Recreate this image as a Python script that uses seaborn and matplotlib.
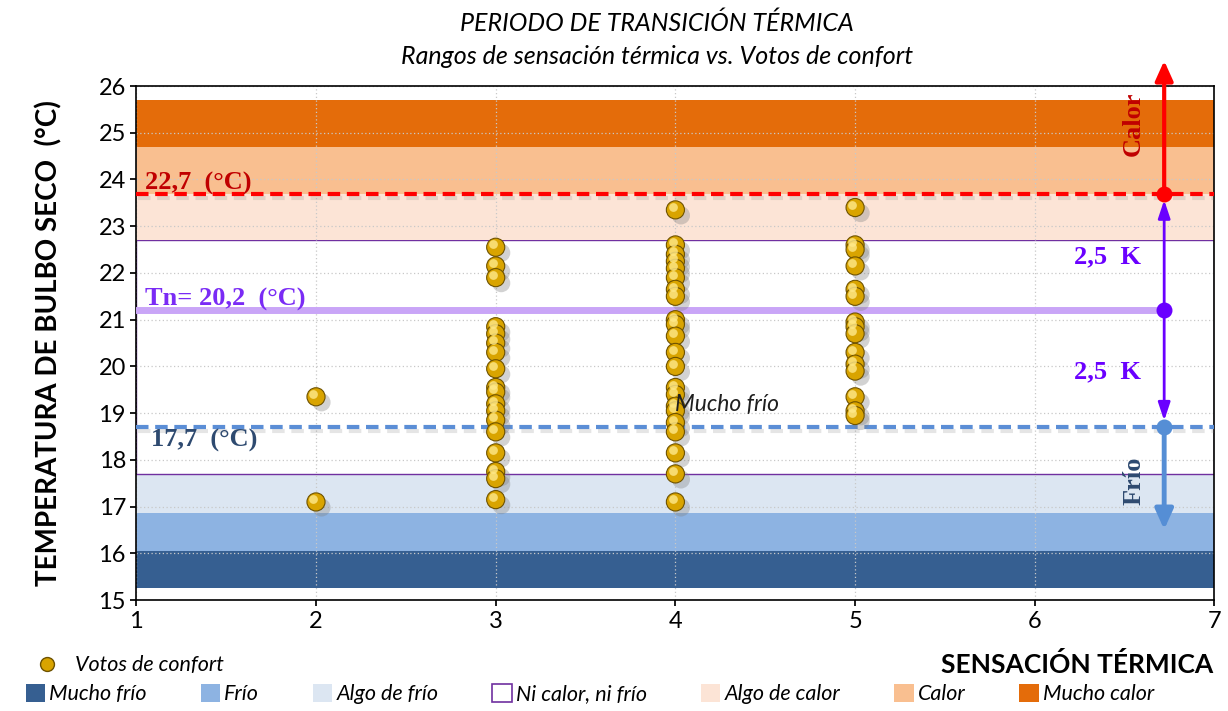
import numpy as np
import pandas as pd
import matplotlib
matplotlib.use("Agg")
import matplotlib.pyplot as plt
import matplotlib.patheffects as pe
from matplotlib.patches import Patch, Rectangle
from matplotlib.lines import Line2D
from matplotlib.transforms import offset_copy
import seaborn as sns

# Votos de confort (sensación térmica vs temperatura de bulbo seco)
votos_2 = [19.35, 17.1]
votos_3 = [22.55, 22.15, 21.9, 20.85, 20.7, 20.5, 20.3, 19.95, 19.55, 19.45,
           19.2, 19.05, 18.85, 18.6, 18.15, 17.75, 17.6, 17.15]
votos_4 = [23.35, 22.6, 22.4, 22.25, 22.1, 21.9, 21.65, 21.5, 21.0, 20.9, 20.65,
           20.3, 20.0, 19.55, 19.4, 19.15, 19.05, 18.8, 18.6, 18.15, 17.7, 17.1]
votos_5 = [23.4, 22.6, 22.5, 22.15, 21.65, 21.5, 20.95, 20.85, 20.7, 20.3,
           20.05, 19.9, 19.35, 19.05, 18.95]

# Rangos de sensación térmica (límites en °C)
rangos = ["Mucho frío", "Frío", "Algo de frío", "Ni calor, ni frío",
          "Algo de calor", "Calor", "Mucho calor"]
limites = [15.25, 16.05, 16.87, 17.7, 22.7, 23.7, 24.7, 25.7]
colores = ["#365F91", "#8DB3E2", "#DCE6F2", "#FFFFFF", "#FCE4D6", "#F9BF90", "#E46C0A"]

# Líneas de referencia (posición dibujada y etiqueta)
y_calor, lab_calor = 23.7, "22,7  (°C)"
y_tn, lab_tn = 21.2, "Tn= 20,2  (°C)"
y_frio, lab_frio = 18.7, "17,7  (°C)"
x_flechas = 6.72

df = pd.DataFrame({
    "sensacion": [2] * len(votos_2) + [3] * len(votos_3) + [4] * len(votos_4) + [5] * len(votos_5),
    "temp": votos_2 + votos_3 + votos_4 + votos_5,
})

sns.set_theme(style="white")
plt.rcParams["font.family"] = ["Lato", "DejaVu Sans"]
plt.rcParams["text.color"] = "black"
plt.rcParams["axes.labelcolor"] = "black"

fig = plt.figure(figsize=(12.28, 7.11), dpi=100)
ax = fig.add_axes([0.111, 0.156, 0.878, 0.723])

# bandas
for i, nombre in enumerate(rangos):
    if nombre == "Ni calor, ni frío":
        ax.add_patch(Rectangle((1, limites[i]), 6, limites[i + 1] - limites[i],
                               facecolor="white", edgecolor="#7030A0", lw=1, zorder=1))
    else:
        ax.add_patch(Rectangle((1, limites[i]), 6, limites[i + 1] - limites[i],
                               facecolor=colores[i], edgecolor="none", zorder=1))

# rejilla punteada
for yy in range(15, 27):
    ax.axhline(yy, color="#C8C8C8", lw=0.9, ls=(0, (1, 2)), zorder=1.5)
for xx in range(1, 8):
    ax.axvline(xx, color="#C8C8C8", lw=0.9, ls=(0, (1, 2)), zorder=1.5)

sombra = [pe.SimpleLineShadow(offset=(1.5, -3), shadow_color="gray", alpha=0.2), pe.Normal()]

# líneas de referencia
ax.plot([1, 7], [y_calor, y_calor], color="#FF0000", lw=3, ls=(0, (3, 1.6)), zorder=3, path_effects=sombra)
ax.plot([1, x_flechas], [y_tn, y_tn], color="#C9A5F7", lw=5, zorder=3)
ax.plot([1, 7], [y_frio, y_frio], color="#5B8ED6", lw=3, ls=(0, (3, 1.6)), zorder=3, path_effects=sombra)

# votos
sns.scatterplot(data=df, x="sensacion", y="temp", ax=ax, s=170, color="#D9A400",
                edgecolor="#6E5200", linewidth=0.8, zorder=5, legend=False)
ax.collections[-1].set_path_effects([pe.SimplePatchShadow(offset=(4, -4), shadow_rgbFace="gray", alpha=0.35), pe.Normal()])
ax.scatter(df["sensacion"], df["temp"], s=40, color="#FFE98A", alpha=0.8, linewidths=0, zorder=6,
           transform=offset_copy(ax.transData, fig, x=-2, y=2, units="points"))

# flechas
ax.annotate("", xy=(x_flechas, 26.6), xytext=(x_flechas, y_calor), annotation_clip=False,
            arrowprops=dict(arrowstyle="-|>,head_length=1.0,head_width=0.45", color="#FF0000", lw=3), zorder=7)
ax.annotate("", xy=(x_flechas, y_calor - 0.08), xytext=(x_flechas, y_tn),
            arrowprops=dict(arrowstyle="-|>,head_length=0.9,head_width=0.3", color="#6A00FF", lw=2), zorder=7)
ax.annotate("", xy=(x_flechas, y_frio + 0.08), xytext=(x_flechas, y_tn),
            arrowprops=dict(arrowstyle="-|>,head_length=0.9,head_width=0.3", color="#6A00FF", lw=2), zorder=7)
ax.annotate("", xy=(x_flechas, 16.45), xytext=(x_flechas, y_frio),
            arrowprops=dict(arrowstyle="-|>,head_length=1.0,head_width=0.45", color="#558ED5", lw=3.5), zorder=7)
ax.scatter([x_flechas], [y_calor], s=110, color="#FF0000", zorder=8)
ax.scatter([x_flechas], [y_tn], s=110, color="#6A00FF", zorder=8)
ax.scatter([x_flechas], [y_frio], s=110, color="#558ED5", zorder=8)

serif = ["Liberation Serif", "DejaVu Serif"]
ax.text(1.05, y_calor + 0.08, lab_calor, color="#C00000", fontsize=19, fontweight="bold", family=serif, zorder=9)
ax.text(1.05, y_tn + 0.1, lab_tn, color="#7A2BF5", fontsize=19, fontweight="bold", family=serif, zorder=9)
ax.text(1.08, y_frio - 0.42, lab_frio, color="#2E4A70", fontsize=19, fontweight="bold", family=serif, zorder=9)
ax.text(6.22, 22.2, "2,5  K", color="#6A00FF", fontsize=19, fontweight="bold", family=serif, zorder=9)
ax.text(6.22, 19.75, "2,5  K", color="#6A00FF", fontsize=19, fontweight="bold", family=serif, zorder=9)
ax.text(6.55, 25.2, "Calor", color="#C00000", fontsize=19, fontweight="bold", family=serif,
        rotation=90, ha="center", va="center", zorder=9)
ax.text(6.55, 17.55, "Frío", color="#2E4A70", fontsize=19, fontweight="bold", family=serif,
        rotation=90, ha="center", va="center", zorder=9)
ax.text(4.0, 19.05, "Mucho frío", fontsize=16.5, style="italic", color="#202020", zorder=9)

ax.set_xlim(1, 7)
ax.set_ylim(15, 26)
ax.set_xticks(range(1, 8))
ax.set_yticks(range(15, 27))
ax.tick_params(axis="both", labelsize=17, length=4, direction="out", bottom=True, left=True, colors="black")
ax.set_xlabel("")
ax.set_ylabel("TEMPERATURA DE BULBO SECO  (°C)", fontsize=20, fontweight="bold", labelpad=26)
for s in ax.spines.values():
    s.set_color("black")
    s.set_linewidth(1.2)

fig.text(0.535, 0.968, "PERIODO DE TRANSICIÓN TÉRMICA", ha="center", va="center", fontsize=18, style="italic")
fig.text(0.535, 0.921, "Rangos de sensación térmica vs. Votos de confort", ha="center", va="center",
         fontsize=18, style="italic")
fig.text(0.988, 0.065, "SENSACIÓN TÉRMICA", ha="right", va="center", fontsize=19, fontweight="bold")

# leyendas
h_votos = [Line2D([0], [0], marker="o", ls="none", markersize=10, markerfacecolor="#D9A400",
                  markeredgecolor="#6E5200")]
fig.legend(h_votos, ["Votos de confort"], loc="center left", bbox_to_anchor=(0.005, 0.064),
           frameon=False, handletextpad=0.3, prop={"size": 15.5, "style": "italic"})
h_rangos = []
for i, nombre in enumerate(rangos):
    if nombre == "Ni calor, ni frío":
        h_rangos.append(Patch(facecolor="white", edgecolor="#7030A0", lw=1.2))
    else:
        h_rangos.append(Patch(facecolor=colores[i], edgecolor="none"))
fig.legend(h_rangos, rangos, loc="center left", bbox_to_anchor=(0.005, 0.024), ncol=7, frameon=False,
           handlelength=0.9, handleheight=0.9, handletextpad=0.2, columnspacing=2.5,
           prop={"size": 15.5, "style": "italic"})

fig.savefig("out.png", dpi=100)
